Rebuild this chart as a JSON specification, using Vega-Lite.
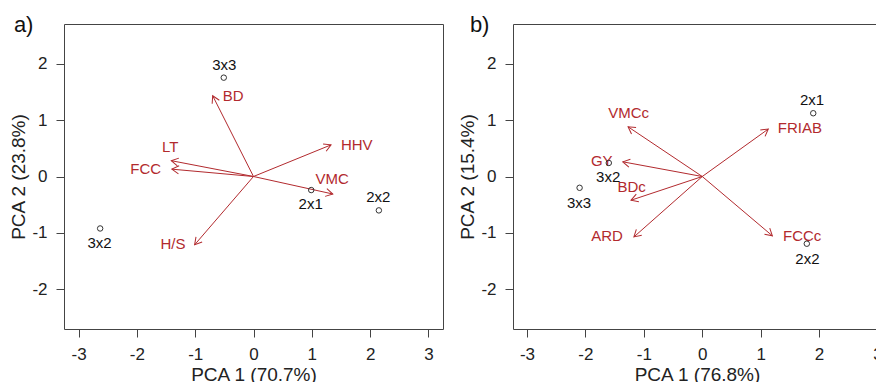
{
  "$schema": "https://vega.github.io/schema/vega-lite/v6.json",
  "padding": {"left": 9, "top": 13, "right": 0, "bottom": 0},
  "spacing": 14,
  "config": {
    "font": "Liberation Sans",
    "view": {"stroke": "#444", "strokeWidth": 1},
    "axis": {
      "domain": false, "grid": false, "tickSize": 8, "tickColor": "#444", "labelExpr": "'' + datum.value",
      "labelFontSize": 17, "labelColor": "#222", "labelPadding": 9,
      "titleFontSize": 19, "titleFontWeight": "normal", "titleColor": "#222", "titlePadding": 3
    },
    "title": {"fontSize": 22, "fontWeight": "normal", "color": "#111", "anchor": "start", "frame": "bounds"}
  },
  "datasets": {
    "ptsA": [
      {"name": "3x3", "x": -0.51, "y": 1.75, "lx": -0.50, "ly": 1.98},
      {"name": "2x1", "x": 0.99, "y": -0.24, "lx": 0.98, "ly": -0.49},
      {"name": "2x2", "x": 2.15, "y": -0.60, "lx": 2.14, "ly": -0.36},
      {"name": "3x2", "x": -2.63, "y": -0.92, "lx": -2.64, "ly": -1.17}
    ],
    "arrA": [
      {"name": "BD", "x": -0.70, "y": 1.43, "lx": -0.35, "ly": 1.43},
      {"name": "HHV", "x": 1.33, "y": 0.56, "lx": 1.77, "ly": 0.56},
      {"name": "LT", "x": -1.41, "y": 0.28, "lx": -1.43, "ly": 0.52},
      {"name": "FCC", "x": -1.40, "y": 0.13, "lx": -1.85, "ly": 0.13},
      {"name": "VMC", "x": 1.36, "y": -0.31, "lx": 1.35, "ly": -0.05},
      {"name": "H/S", "x": -1.01, "y": -1.21, "lx": -1.38, "ly": -1.20}
    ],
    "ptsB": [
      {"name": "2x1", "x": 1.90, "y": 1.12, "lx": 1.88, "ly": 1.36},
      {"name": "2x2", "x": 1.79, "y": -1.19, "lx": 1.80, "ly": -1.46},
      {"name": "3x2", "x": -1.60, "y": 0.24, "lx": -1.61, "ly": -0.01},
      {"name": "3x3", "x": -2.10, "y": -0.20, "lx": -2.11, "ly": -0.47}
    ],
    "arrB": [
      {"name": "VMCc", "x": -1.27, "y": 0.88, "lx": -1.26, "ly": 1.13},
      {"name": "GY", "x": -1.36, "y": 0.26, "lx": -1.72, "ly": 0.27},
      {"name": "BDc", "x": -1.22, "y": -0.42, "lx": -1.21, "ly": -0.18},
      {"name": "ARD", "x": -1.17, "y": -1.07, "lx": -1.63, "ly": -1.06},
      {"name": "FRIAB", "x": 1.13, "y": 0.84, "lx": 1.67, "ly": 0.85},
      {"name": "FCCc", "x": 1.20, "y": -1.05, "lx": 1.71, "ly": -1.05}
    ]
  },
  "hconcat": [
    {
      "width": 379, "height": 305,
      "title": {"text": "a)", "offset": -30, "dx": 4, "baseline": "alphabetic"},
      "layer": [
        {
          "mark": {"type": "rule", "color": "#888", "strokeDash": [4, 3], "strokeWidth": 1},
          "encoding": {
            "x": {"datum": 0, "type": "quantitative",
                  "scale": {"domain": [-3.25, 3.25], "nice": false, "zero": false},
                  "axis": {"title": "PCA 1 (70.7%)", "values": [-3, -2, -1, 0, 1, 2, 3]}}
          }
        },
        {
          "mark": {"type": "rule", "color": "#888", "strokeDash": [4, 3], "strokeWidth": 1},
          "encoding": {
            "y": {"datum": 0, "type": "quantitative",
                  "scale": {"domain": [-2.7, 2.7], "nice": false, "zero": false},
                  "axis": {"title": "PCA 2 (23.8%)", "values": [-2, -1, 0, 1, 2]}}
          }
        },
        {
          "data": {"name": "arrA"},
          "mark": {"type": "rule", "color": "#B22A2E", "strokeWidth": 1},
          "encoding": {
            "x": {"field": "x", "type": "quantitative"},
            "y": {"field": "y", "type": "quantitative"},
            "x2": {"datum": 0},
            "y2": {"datum": 0}
          }
        },
        {
          "data": {"name": "arrA"},
          "transform": [{"calculate": "atan2(-datum.y, datum.x) * 180 / PI", "as": "ang"}],
          "mark": {"type": "point", "shape": "M -0.87 -0.5 L 0 0 L -0.87 0.5", "filled": false, "stroke": "#B22A2E", "strokeWidth": 1, "size": 256, "opacity": 1},
          "encoding": {
            "x": {"field": "x", "type": "quantitative"},
            "y": {"field": "y", "type": "quantitative"},
            "angle": {"field": "ang", "type": "quantitative", "scale": null}
          }
        },
        {
          "data": {"name": "arrA"},
          "mark": {"type": "text", "color": "#B22A2E", "fontSize": 15, "align": "center", "baseline": "middle"},
          "encoding": {
            "x": {"field": "lx", "type": "quantitative"},
            "y": {"field": "ly", "type": "quantitative"},
            "text": {"field": "name"}
          }
        },
        {
          "data": {"name": "ptsA"},
          "mark": {"type": "point", "shape": "circle", "filled": false, "stroke": "#333", "strokeWidth": 1, "size": 30, "opacity": 1},
          "encoding": {
            "x": {"field": "x", "type": "quantitative"},
            "y": {"field": "y", "type": "quantitative"}
          }
        },
        {
          "data": {"name": "ptsA"},
          "mark": {"type": "text", "color": "#111", "fontSize": 15, "align": "center", "baseline": "middle"},
          "encoding": {
            "x": {"field": "lx", "type": "quantitative"},
            "y": {"field": "ly", "type": "quantitative"},
            "text": {"field": "name"}
          }
        }
      ]
    },
    {
      "width": 368, "height": 305,
      "title": {"text": "b)", "offset": -30, "dx": 11, "baseline": "alphabetic"},
      "layer": [
        {
          "mark": {"type": "rule", "color": "#888", "strokeDash": [4, 3], "strokeWidth": 1},
          "encoding": {
            "x": {"datum": 0, "type": "quantitative",
                  "scale": {"domain": [-3.24, 3.06], "nice": false, "zero": false},
                  "axis": {"title": "PCA 1 (76.8%)", "values": [-3, -2, -1, 0, 1, 2, 3]}}
          }
        },
        {
          "mark": {"type": "rule", "color": "#888", "strokeDash": [4, 3], "strokeWidth": 1},
          "encoding": {
            "y": {"datum": 0, "type": "quantitative",
                  "scale": {"domain": [-2.7, 2.7], "nice": false, "zero": false},
                  "axis": {"title": "PCA 2 (15.4%)", "values": [-2, -1, 0, 1, 2]}}
          }
        },
        {
          "data": {"name": "arrB"},
          "mark": {"type": "rule", "color": "#B22A2E", "strokeWidth": 1},
          "encoding": {
            "x": {"field": "x", "type": "quantitative"},
            "y": {"field": "y", "type": "quantitative"},
            "x2": {"datum": 0},
            "y2": {"datum": 0}
          }
        },
        {
          "data": {"name": "arrB"},
          "transform": [{"calculate": "atan2(-datum.y, datum.x) * 180 / PI", "as": "ang"}],
          "mark": {"type": "point", "shape": "M -0.87 -0.5 L 0 0 L -0.87 0.5", "filled": false, "stroke": "#B22A2E", "strokeWidth": 1, "size": 256, "opacity": 1},
          "encoding": {
            "x": {"field": "x", "type": "quantitative"},
            "y": {"field": "y", "type": "quantitative"},
            "angle": {"field": "ang", "type": "quantitative", "scale": null}
          }
        },
        {
          "data": {"name": "arrB"},
          "mark": {"type": "text", "color": "#B22A2E", "fontSize": 15, "align": "center", "baseline": "middle"},
          "encoding": {
            "x": {"field": "lx", "type": "quantitative"},
            "y": {"field": "ly", "type": "quantitative"},
            "text": {"field": "name"}
          }
        },
        {
          "data": {"name": "ptsB"},
          "mark": {"type": "point", "shape": "circle", "filled": false, "stroke": "#333", "strokeWidth": 1, "size": 30, "opacity": 1},
          "encoding": {
            "x": {"field": "x", "type": "quantitative"},
            "y": {"field": "y", "type": "quantitative"}
          }
        },
        {
          "data": {"name": "ptsB"},
          "mark": {"type": "text", "color": "#111", "fontSize": 15, "align": "center", "baseline": "middle"},
          "encoding": {
            "x": {"field": "lx", "type": "quantitative"},
            "y": {"field": "ly", "type": "quantitative"},
            "text": {"field": "name"}
          }
        }
      ]
    }
  ]
}
